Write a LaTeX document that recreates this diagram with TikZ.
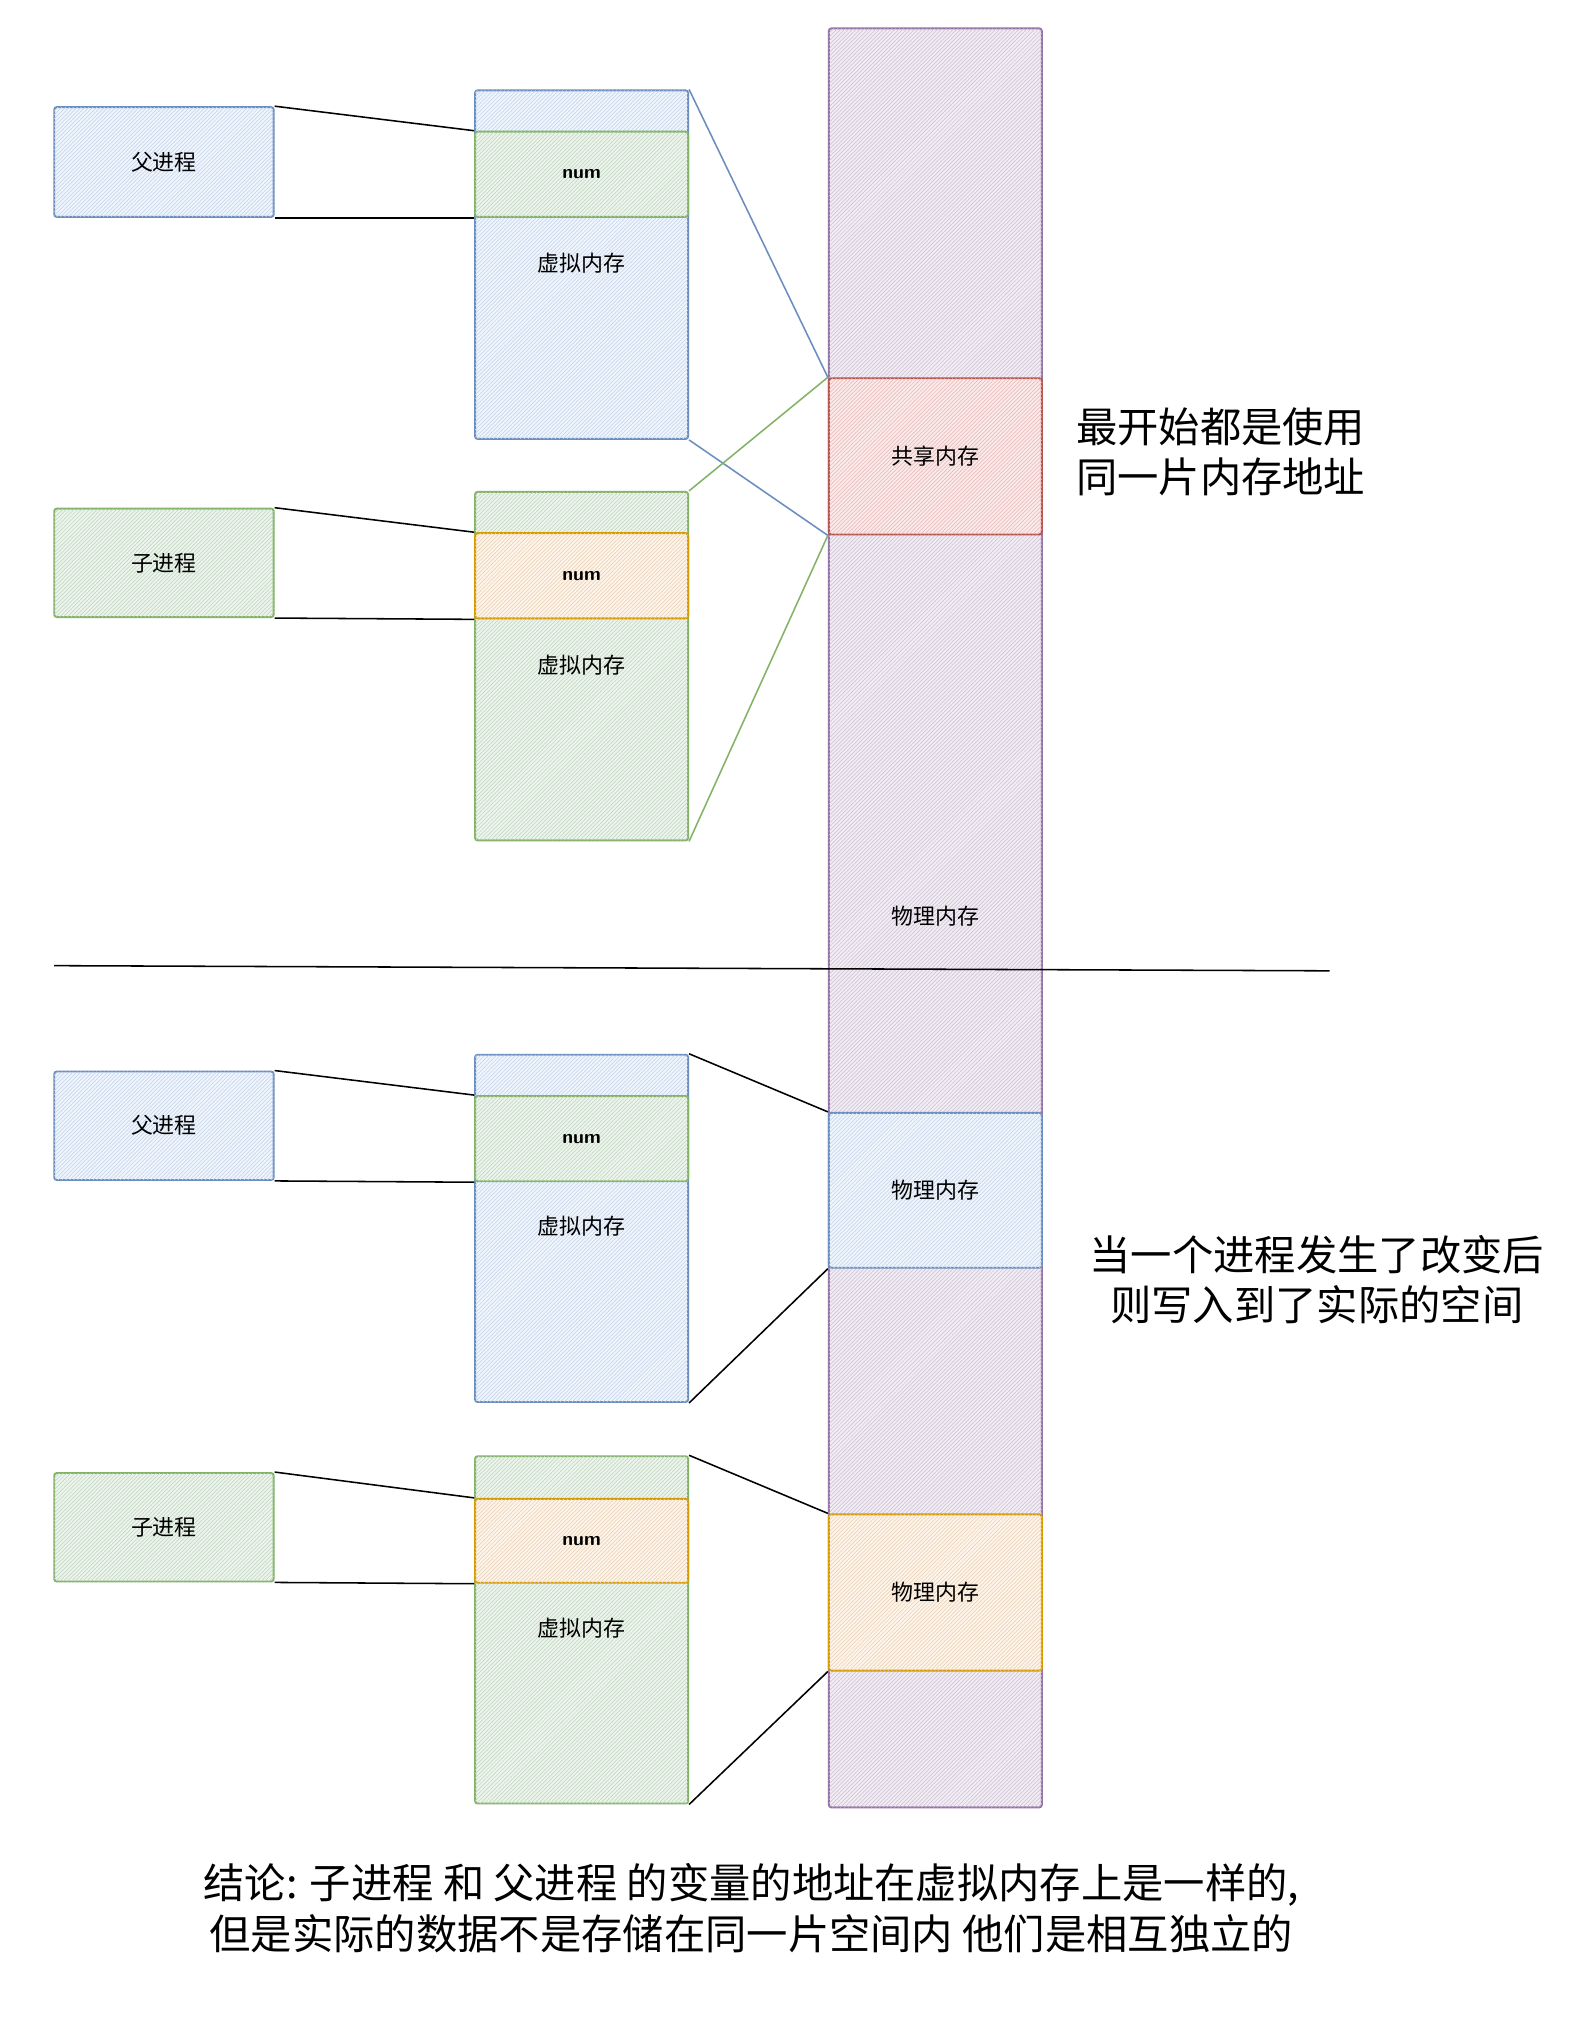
\documentclass[tikz,border=0pt]{standalone}
\usepackage{fontspec}
\newfontfamily\cjk{Noto Sans CJK SC}
\usetikzlibrary{patterns}
\definecolor{bS}{HTML}{6C8EBF}\definecolor{bF}{HTML}{DAE8FC}
\definecolor{gS}{HTML}{82B366}\definecolor{gF}{HTML}{D5E8D4}
\definecolor{oS}{HTML}{D79B00}\definecolor{oF}{HTML}{FFE6CC}
\definecolor{rS}{HTML}{B85450}\definecolor{rF}{HTML}{F8CECC}
\definecolor{pS}{HTML}{9673A6}\definecolor{pF}{HTML}{E1D5E7}
\tikzset{
 bx/.style={draw=#1S,fill=#1F!45,line width=1.5pt,rounded corners=2pt,inner sep=0pt,font=\cjk\fontsize{17}{20}\selectfont,
   postaction={pattern=north east lines,pattern color=#1F!90!black}},
 lbl/.style={font=\cjk\fontsize{17}{20}\selectfont},
 big/.style={font=\cjk\fontsize{32}{39}\selectfont,align=left},
 ln/.style={line width=1.2pt}
}
\begin{document}
\begin{tikzpicture}[x=1pt,y=-1pt]
\useasboundingbox (0,0) rectangle (1220,1574);
\fill[white] (0,0) rectangle (1220,1574);
\node[bx=p,minimum width=165,minimum height=1378] (phys) at (724.5,711) {};
\node[lbl] (physl) at (724.5,710) {物理内存};
\node[bx=r,minimum width=165,minimum height=121] (shared) at (724.5,353.5) {共享内存};
\node[bx=b,minimum width=165,minimum height=120] (pb) at (724.5,922) {物理内存};
\node[bx=o,minimum width=165,minimum height=121] (po) at (724.5,1233.5) {物理内存};
% top half
\node[bx=b,minimum width=170,minimum height=85] (p1) at (127,125.5) {父进程};
\node[bx=b,minimum width=165,minimum height=270] (vm1) at (450.5,205) {};
\node[bx=g,minimum width=165,minimum height=66,font=\sffamily\bfseries\fontsize{15}{18}\selectfont] (num1) at (450.5,135) {num};
\node[lbl] at (450.5,204) {虚拟内存};
\node[bx=g,minimum width=170,minimum height=84] (c1) at (127,436) {子进程};
\node[bx=g,minimum width=165,minimum height=270] (vm2) at (450.5,516) {};
\node[bx=o,minimum width=165,minimum height=66,font=\sffamily\bfseries\fontsize{15}{18}\selectfont] (num2) at (450.5,446) {num};
\node[lbl] at (450.5,515) {虚拟内存};
% bottom half
\node[bx=b,minimum width=170,minimum height=84] (p2) at (127,872) {父进程};
\node[bx=b,minimum width=165,minimum height=269] (vm3) at (450.5,951.5) {};
\node[bx=g,minimum width=165,minimum height=66,font=\sffamily\bfseries\fontsize{15}{18}\selectfont] (num3) at (450.5,882) {num};
\node[lbl] at (450.5,950) {虚拟内存};
\node[bx=g,minimum width=170,minimum height=84] (c2) at (127,1183) {子进程};
\node[bx=g,minimum width=165,minimum height=269] (vm4) at (450.5,1262.5) {};
\node[bx=o,minimum width=165,minimum height=65,font=\sffamily\bfseries\fontsize{15}{18}\selectfont] (num4) at (450.5,1193.5) {num};
\node[lbl] at (450.5,1261) {虚拟内存};
% connectors
\draw[ln] (p1.north east) -- (num1.north west); \draw[ln] (p1.south east) -- (num1.south west);
\draw[ln] (c1.north east) -- (num2.north west); \draw[ln] (c1.south east) -- (num2.south west);
\draw[ln] (p2.north east) -- (num3.north west); \draw[ln] (p2.south east) -- (num3.south west);
\draw[ln] (c2.north east) -- (num4.north west); \draw[ln] (c2.south east) -- (num4.south west);
\draw[ln,bS] (vm1.north east) -- (shared.north west); \draw[ln,bS] (vm1.south east) -- (shared.south west);
\draw[ln,gS] (vm2.north east) -- (shared.north west); \draw[ln,gS] (vm2.south east) -- (shared.south west);
\draw[ln] (vm3.north east) -- (pb.north west); \draw[ln] (vm3.south east) -- (pb.south west);
\draw[ln] (vm4.north east) -- (po.north west); \draw[ln] (vm4.south east) -- (po.south west);
\coordinate (d1) at (42,748); \coordinate (d2) at (1030,752);
\draw[ln] (d1) -- (d2);
% texts
\node[big,anchor=west] (t1) at (830,350) {最开始都是使用\\同一片内存地址};
\node[big,align=center] (t2) at (1020,991) {当一个进程发生了改变后\\则写入到了实际的空间};
\node[big,align=center] (t3) at (582,1478) {结论: 子进程 和 父进程 的变量的地址在虚拟内存上是一样的,\\但是实际的数据不是存储在同一片空间内 他们是相互独立的};
\end{tikzpicture}
\end{document}
